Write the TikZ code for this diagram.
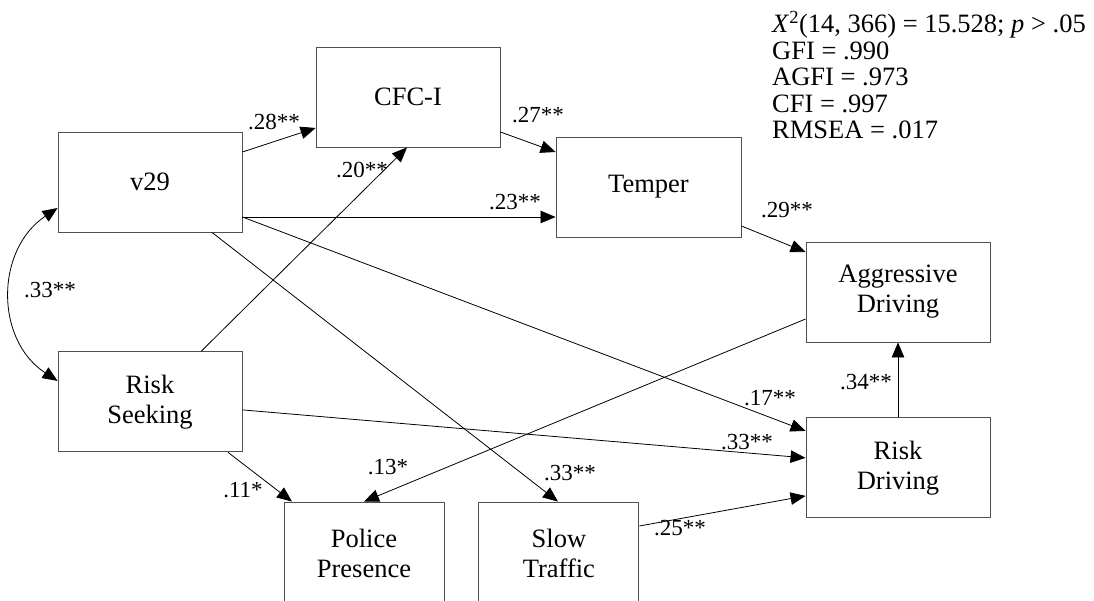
\documentclass[tikz,border=0pt]{standalone}
\usepackage{fontspec}
\setmainfont{Liberation Serif}
\usepackage{tikz}
\usetikzlibrary{arrows.meta,positioning}
\definecolor{boxline}{HTML}{505050}

\begin{document}
\begin{tikzpicture}[
  x=1pt, y=-1pt,
  node distance=119pt and 34pt,
  every node/.style={align=center},
  box/.style={draw=boxline, line width=0.9pt, minimum width=184pt, minimum height=100pt, inner sep=0pt, font=\fontsize{26.5}{30}\selectfont},
  lowbox/.style={box, minimum width=160pt, minimum height=102pt},
  arr/.style={-{Triangle[length=15pt, width=12.5pt]}, line width=0.8pt},
  cov/.style={{Triangle[length=15pt, width=12.5pt]}-{Triangle[length=15pt, width=12.5pt]}, line width=0.8pt},
  coef/.style={font=\fontsize{23}{26}\selectfont, inner sep=0pt}
]
\useasboundingbox (0,0) rectangle (1094,601);
\node[box] (cfc) at (408,97) {CFC-I};
\node[box] (v29) at (150,182) {v29};
\node[box, below=of v29] (rseek) {Risk\\Seeking};
\node[box, minimum width=185pt] (temper) at (648.5,187) {Temper};
\node[box] (aggr) at (898,292) {Aggressive\\Driving};
\node[box, below=75pt of aggr] (rdrive) {Risk\\Driving};
\node[lowbox] (police) at (364,553) {Police\\Presence};
\node[lowbox, right=of police] (slow) {Slow\\Traffic};
\node[anchor=north west, align=left, inner sep=0pt, font=\fontsize{26.5}{26.5}\selectfont] (fit) at (772,11)
  {\textit{X}\textsuperscript{2}(14, 366) = 15.528; \textit{p} > .05\\GFI = .990\\AGFI = .973\\CFI = .997\\RMSEA = .017};

\draw[arr] ([yshift=30pt]v29.east) -- ([yshift=-31pt]cfc.west);
\draw[arr] ([xshift=51pt]rseek.north) -- ([xshift=-1pt]cfc.south);
\draw[arr] ([yshift=-35pt]cfc.east) -- ([yshift=35pt]temper.west);
\draw[arr] ([yshift=-35pt]v29.east) -- ([yshift=-30pt]temper.west);
\draw[arr] ([yshift=-39pt]temper.east) -- ([yshift=40pt]aggr.west);
\draw[arr] ([yshift=-35pt]v29.east) -- ([yshift=37pt]rdrive.west);
\draw[arr] ([xshift=62pt]v29.south) -- ([xshift=-1pt]slow.north);
\draw[arr] ([yshift=-8pt]rseek.east) -- ([yshift=10pt]rdrive.west);
\draw[arr] ([yshift=-27pt]aggr.west) -- (police.north);
\draw[arr] ([xshift=78pt]rseek.south) -- ([xshift=-72pt]police.north);
\draw[arr] ([yshift=27pt]slow.east) -- ([yshift=-28pt]rdrive.west);
\draw[arr] (rdrive.north) -- (aggr.south);
\draw[cov] ([yshift=-26pt]v29.west) .. controls (-5,250) and (-5,340) .. ([yshift=21pt]rseek.west);

\node[coef] (c28) at (274,122) {.28**};
\node[coef] (c20) at (362,170) {.20**};
\node[coef] (c27) at (538,115) {.27**};
\node[coef] (c23) at (515,202) {.23**};
\node[coef] (c29) at (787,210) {.29**};
\node[coef] (c17) at (770,398) {.17**};
\node[coef] (c33s) at (570,473) {.33**};
\node[coef] (c33r) at (747,442) {.33**};
\node[coef] (c13) at (388,467) {.13*};
\node[coef] (c11) at (243,490) {.11*};
\node[coef] (c25) at (680,528) {.25**};
\node[coef] (c34) at (866,382) {.34**};
\node[coef] (ccov) at (50,290) {.33**};
\end{tikzpicture}
\end{document}
